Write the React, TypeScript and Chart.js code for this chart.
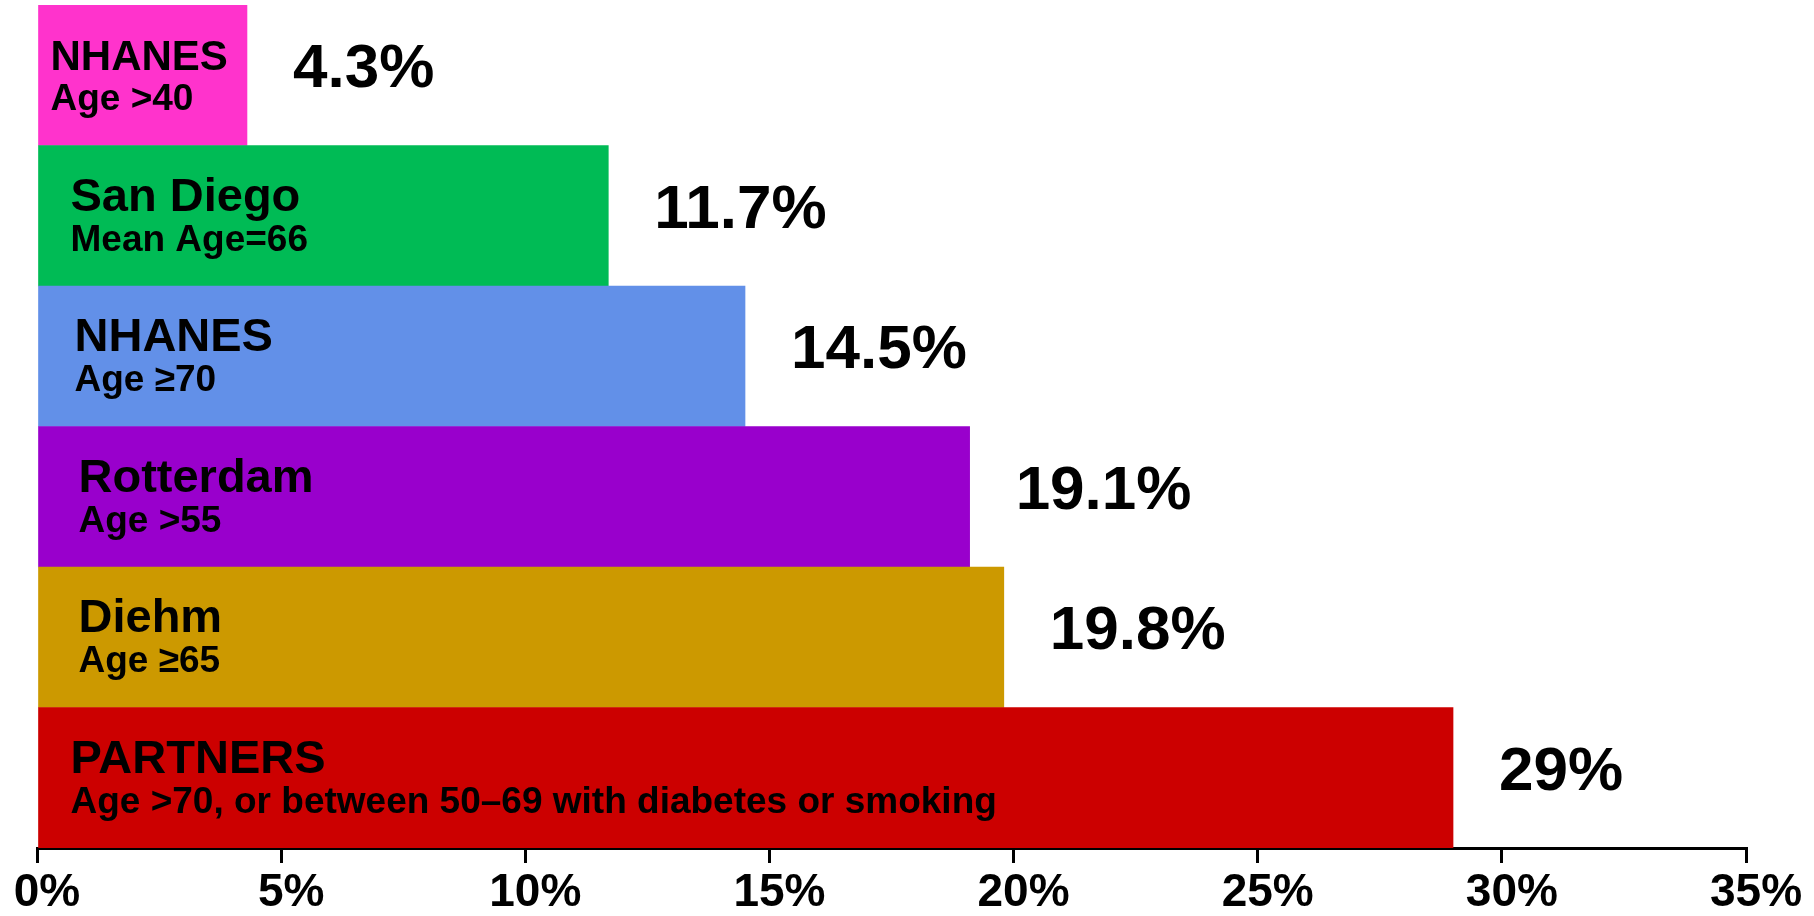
import { useEffect, useRef } from "react";
import { Chart, registerables } from "chart.js";

Chart.register(...registerables);

// Study names, their inclusion criteria and the reported PAD prevalence (%)
const studies = ["NHANES", "San Diego", "NHANES", "Rotterdam", "Diehm", "PARTNERS"];
const criteria = [
  "Age >40",
  "Mean Age=66",
  "Age \u226570",
  "Age >55",
  "Age \u226565",
  "Age >70, or between 50\u201369 with diabetes or smoking",
];
const prevalence = [4.3, 11.7, 14.5, 19.1, 19.8, 29];
const tickValues = [0, 5, 10, 15, 20, 25, 30, 35];

const barColors = ["#FF33CC", "#00BB55", "#6290E8", "#9900CC", "#CC9900", "#CC0000"];

// Text styling for the labels written inside / beside each bar
const FONT = '"Liberation Sans", Arial, Helvetica, sans-serif';
const titleSizes = [42, 47, 47, 47, 47, 47];
const labelInsets = [12, 32, 36, 40, 40, 32];
const SUB_SIZE = 37;
const VALUE_SIZE = 62;

const barText = {
  id: "barText",
  afterDatasetsDraw(chart: any) {
    const { ctx } = chart;
    const meta = chart.getDatasetMeta(0);
    meta.data.forEach((bar: any, i: number) => {
      const { x, y, base } = bar.getProps(["x", "y", "base"], true);
      ctx.save();
      ctx.fillStyle = "#000";
      ctx.textAlign = "left";
      ctx.textBaseline = "alphabetic";
      ctx.font = `bold ${titleSizes[i]}px ${FONT}`;
      ctx.fillText(studies[i], base + labelInsets[i], y - 5);
      ctx.font = `bold ${SUB_SIZE}px ${FONT}`;
      ctx.fillText(criteria[i], base + labelInsets[i], y + 35);
      ctx.font = `bold ${VALUE_SIZE}px ${FONT}`;
      ctx.textBaseline = "middle";
      ctx.fillText(`${prevalence[i]}%`, x + 46, y - 5);
      ctx.restore();
    });
  },
};

export default function App() {
  const canvasRef = useRef<HTMLCanvasElement | null>(null);

  useEffect(() => {
    if (!canvasRef.current) return;
    const chart = new Chart(canvasRef.current, {
      type: "bar",
      data: {
        labels: studies.map((s, i) => `${s} ${criteria[i]}`),
        datasets: [
          {
            data: prevalence,
            backgroundColor: barColors,
            borderWidth: 0,
            barPercentage: 1,
            categoryPercentage: 1,
          },
        ],
      },
      options: {
        indexAxis: "y",
        responsive: false,
        animation: false,
        layout: { padding: { left: 37, right: 68, top: 5, bottom: 0 } },
        plugins: {
          legend: { display: false },
          tooltip: { enabled: false },
        },
        scales: {
          y: {
            display: false,
            grid: { display: false },
          },
          x: {
            type: "linear",
            min: 0,
            max: 35,
            afterBuildTicks: (scale: any) => {
              scale.ticks = tickValues.map((v) => ({ value: v }));
            },
            afterFit: (scale: any) => {
              scale.height = 68;
            },
            border: { display: true, color: "#000", width: 3 },
            grid: {
              drawOnChartArea: false,
              drawTicks: true,
              tickLength: 15,
              lineWidth: 3,
              color: "#000",
            },
            ticks: {
              color: "#000",
              padding: 3,
              labelOffset: 10,
              maxRotation: 0,
              autoSkip: false,
              font: { family: FONT, size: 46, weight: "bold" },
              callback: (v: any) => `${v}%`,
            },
          },
        },
      },
      plugins: [barText],
    });
    return () => chart.destroy();
  }, []);

  return (
    <div style={{ position: "fixed", left: 0, top: 0, width: 1814, height: 916, background: "#fff" }}>
      <canvas ref={canvasRef} width={1814} height={916} style={{ display: "block" }} />
    </div>
  );
}
